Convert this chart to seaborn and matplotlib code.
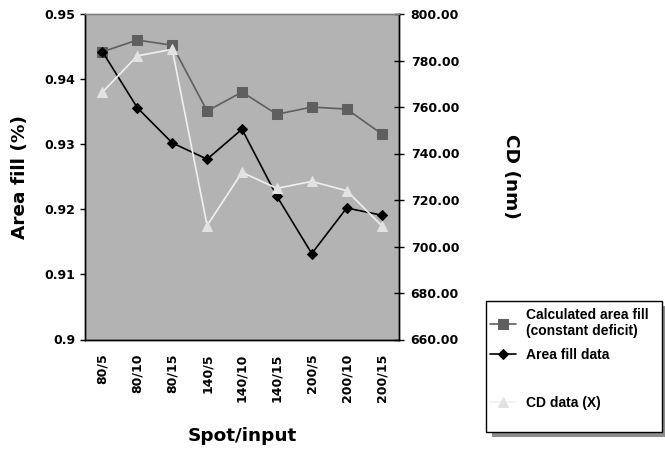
import matplotlib
matplotlib.use("Agg")
import matplotlib.pyplot as plt
from matplotlib.patches import Rectangle
from matplotlib.ticker import FixedLocator, FormatStrFormatter
from matplotlib.lines import Line2D
import seaborn as sns
import pandas as pd

# Spot size / input combinations along the x axis
spot_input = ["80/5", "80/10", "80/15", "140/5", "140/10", "140/15", "200/5", "200/10", "200/15"]
# Area fill (left axis)
calc_area_fill = [0.9442, 0.9460, 0.9452, 0.9351, 0.9380, 0.9346, 0.9357, 0.9354, 0.9316]
area_fill_data = [0.9442, 0.9356, 0.9302, 0.9277, 0.9323, 0.9220, 0.9132, 0.9202, 0.9191]
# Critical dimension (right axis)
cd_data = [766.4, 782.0, 784.8, 709.0, 731.9, 725.0, 728.0, 724.0, 709.0]

sns.set_style("white")
plt.rcParams["font.family"] = ["DejaVu Sans"]
plt.rcParams["font.weight"] = "bold"
for key in ("text.color", "axes.labelcolor", "xtick.color", "ytick.color"):
    plt.rcParams[key] = "black"

df = pd.DataFrame({
    "spot": spot_input,
    "calc": calc_area_fill,
    "fill": area_fill_data,
    "cd": cd_data,
})

W, H = 665, 451
fig = plt.figure(figsize=(6.65, 4.51), dpi=100)
ax = fig.add_axes([85 / W, 1 - 339.5 / H, (399 - 85) / W, (339.5 - 14) / H])
ax.set_facecolor("#b3b3b3")
ax2 = ax.twinx()
ax2.set_facecolor("none")

sns.lineplot(data=df, x="spot", y="calc", ax=ax, sort=False, color="#5f5f5f",
             marker="s", markersize=7, markeredgecolor="#5f5f5f", linewidth=1.2,
             label="Calculated area fill\n(constant deficit)", legend=False)
sns.lineplot(data=df, x="spot", y="fill", ax=ax, sort=False, color="black",
             marker="D", markersize=5.5, markeredgecolor="black", linewidth=1.2,
             label="Area fill data", legend=False)
sns.lineplot(data=df, x="spot", y="cd", ax=ax2, sort=False, color="#f0f0f0",
             marker="^", markersize=7, markeredgecolor="#e2e2e2", markerfacecolor="#e2e2e2",
             linewidth=1.2, label="CD data (X)", legend=False)

n = len(spot_input)
ax.set_xlim(-0.5, n - 0.5)
ax.set_ylim(0.9, 0.95)
ax2.set_ylim(660, 800)

ax.yaxis.set_major_locator(FixedLocator([0.9, 0.91, 0.92, 0.93, 0.94, 0.95]))
ax.set_yticklabels(["0.9", "0.91", "0.92", "0.93", "0.94", "0.95"])
ax2.yaxis.set_major_locator(FixedLocator(list(range(660, 801, 20))))
ax2.yaxis.set_major_formatter(FormatStrFormatter("%.2f"))

ax.set_xticks(range(n))
ax.set_xticklabels(spot_input, rotation=90, fontsize=9, fontweight="bold")
ax.xaxis.set_minor_locator(FixedLocator([i - 0.5 for i in range(n + 1)]))
ax.tick_params(axis="x", which="major", length=0, pad=10)
ax.tick_params(axis="x", which="minor", direction="inout", length=5.8, width=1, color="black")
ax.tick_params(axis="y", which="major", direction="out", length=3.5, width=1, color="black",
               labelsize=9, pad=3.5)
ax2.tick_params(axis="y", which="major", direction="inout", length=7.2, width=1, color="black",
                labelsize=9, pad=4.8)
for lbl in ax.get_yticklabels() + ax2.get_yticklabels():
    lbl.set_fontweight("bold")

for a in (ax, ax2):
    for side in ("left", "right", "bottom"):
        a.spines[side].set_color("black")
        a.spines[side].set_linewidth(1)
    a.spines["top"].set_color("#808080")
    a.spines["top"].set_linewidth(1)

ax.set_xlabel("Spot/input", fontsize=13.3, fontweight="bold", labelpad=18)
ax.set_ylabel("Area fill (%)", fontsize=13.3, fontweight="bold", labelpad=11)
ax2.set_ylabel("CD (nm)", fontsize=13.3, fontweight="bold", rotation=-90, labelpad=44)

# Legend box with a drop shadow
box_x0, box_x1, box_top, box_bot = 486, 662, 301, 432
fig.patches.append(Rectangle(((box_x0 + 6) / W, 1 - (box_bot + 5) / H),
                             (box_x1 - box_x0) / W, (box_bot - box_top) / H,
                             transform=fig.transFigure, facecolor="#8c8c8c",
                             edgecolor="none", zorder=0))
fig.patches.append(Rectangle((box_x0 / W, 1 - box_bot / H),
                             (box_x1 - box_x0) / W, (box_bot - box_top) / H,
                             transform=fig.transFigure, facecolor="white",
                             edgecolor="black", linewidth=1, zorder=1))

handles = ax.get_lines()[:2] + [Line2D([], [], color="none")] + ax2.get_lines()[:1]
labels = ["Calculated area fill\n(constant deficit)", "Area fill data", " ", "CD data (X)"]
leg = fig.legend(handles, labels, loc="upper left", bbox_to_anchor=(490 / W, 1 - 308 / H),
                 frameon=False, handlelength=1.9,
                 handletextpad=0.7, labelspacing=0.72, borderpad=0, borderaxespad=0,
                 prop={"family": ["Liberation Sans", "DejaVu Sans"], "weight": "bold", "size": 10})
leg.set_zorder(5)

fig.savefig("out.png", dpi=100)
